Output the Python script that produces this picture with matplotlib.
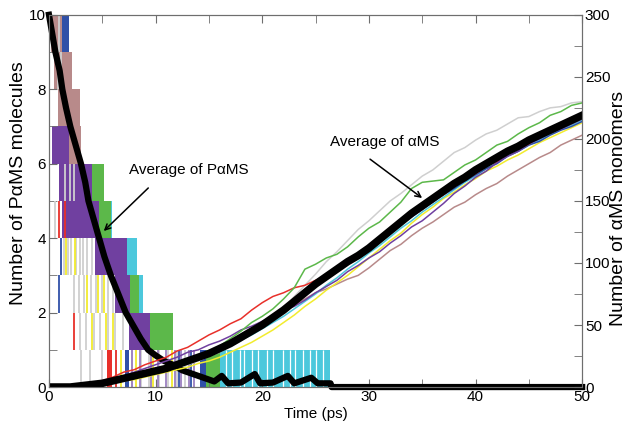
import numpy as np
import matplotlib.pyplot as plt

plt.rcParams['font.family'] = ['Liberation Sans', 'DejaVu Sans']

# ---- alpha-MS monomers (right axis), one value per ps ----
t_ams = np.arange(51)
avg_ams = [0, 0, 0, 1, 2, 3, 5, 7, 9, 11, 13, 15, 18, 21, 24, 27, 31, 35, 40, 45, 50,
           56, 62, 69, 76, 83, 89, 95, 101, 106, 112, 119, 126, 133, 140, 146, 152, 158,
           164, 169, 175, 180, 185, 190, 194, 199, 203, 207, 211, 215, 219]
gray_ams = [0, 0, 0, 0, 1, 2, 3, 5, 7, 9, 11, 13, 16, 18, 21, 25, 28, 33, 37, 43, 48,
            56, 63, 73, 82, 91, 101, 109, 118, 127, 134, 142, 150, 156, 163, 170, 175, 182,
            189, 193, 199, 204, 207, 212, 217, 218, 222, 225, 226, 229, 230]
green_ams = [0, 0, 0, 1, 1, 3, 4, 6, 8, 10, 13, 15, 17, 21, 24, 28, 33, 39, 45, 52, 57,
             63, 71, 80, 95, 99, 104, 107, 113, 121, 128, 133, 141, 149, 160, 165, 166, 167,
             173, 179, 183, 189, 195, 198, 204, 209, 213, 219, 222, 227, 229]
red_ams = [0, 0, 0, 1, 3, 5, 8, 12, 14, 18, 21, 24, 29, 32, 37, 42, 46, 51, 55, 62, 68,
           73, 76, 80, 82, 86, 90, 97, 102, 107, 114, 119, 126, 131, 138, 143, 150, 155,
           162, 167, 172, 178, 182, 188, 192, 196, 202, 205, 210, 213, 217]
purple_ams = [0, 0, 0, 1, 2, 4, 7, 9, 12, 15, 18, 21, 24, 28, 30, 34, 37, 41, 46, 49, 53,
              57, 62, 65, 70, 76, 81, 86, 93, 98, 104, 109, 116, 122, 129, 134, 141, 148,
              156, 162, 169, 174, 181, 186, 190, 196, 200, 205, 208, 212, 216]
brown_ams = [0, 0, 0, 1, 2, 3, 5, 7, 9, 11, 13, 16, 17, 20, 24, 26, 30, 35, 39, 44, 49,
             54, 60, 66, 71, 76, 79, 83, 87, 90, 96, 103, 110, 115, 122, 128, 133, 139,
             145, 149, 155, 160, 164, 170, 175, 180, 185, 189, 195, 199, 203]
yellow_ams = [0, 0, 0, 0, 1, 2, 3, 5, 6, 8, 10, 12, 14, 16, 19, 21, 24, 28, 32, 36, 41,
              46, 52, 58, 65, 71, 78, 84, 90, 97, 104, 111, 118, 124, 132, 139, 145, 152,
              157, 163, 168, 174, 178, 183, 187, 192, 197, 201, 205, 209, 213]
cyan_ams = [0, 0, 0, 0, 1, 2, 4, 6, 8, 10, 12, 14, 17, 19, 22, 26, 29, 33, 38, 42, 47,
            52, 57, 63, 69, 75, 82, 88, 95, 101, 108, 114, 121, 128, 134, 141, 147, 153,
            159, 165, 170, 176, 181, 186, 190, 195, 199, 204, 208, 211, 215]
blue_ams = [0, 0, 0, 1, 2, 3, 5, 7, 9, 11, 14, 16, 19, 22, 25, 28, 32, 36, 41, 45, 50,
            55, 61, 67, 74, 81, 88, 94, 101, 107, 113, 119, 124, 131, 137, 143, 149, 155,
            160, 166, 171, 176, 180, 186, 190, 195, 198, 203, 207, 210, 214]

# ---- P-alpha-MS molecules (left axis) ----
# average curve
t_pams = [0, 0.3, 0.6, 1.0, 1.25, 1.6, 2.0, 2.5, 3.0, 3.4, 3.7, 4.2, 4.7, 5.2, 5.8, 6.5,
          7.2, 8.0, 8.6, 9.3, 10.0, 10.8, 11.6, 12.5, 13.5, 14.5, 15.5, 16.2, 16.8, 18.0,
          19.3, 19.8, 21.0, 22.4, 23.0, 24.6, 25.2, 26.4, 26.5, 50]
avg_pams = [10, 9.5, 9.0, 8.5, 8.0, 7.5, 7.0, 6.5, 6.0, 5.5, 5.0, 4.5, 4.0, 3.5, 3.0, 2.5,
            2.0, 1.6, 1.3, 1.0, 0.85, 0.7, 0.6, 0.45, 0.35, 0.25, 0.15, 0.3, 0.1, 0.12,
            0.35, 0.1, 0.12, 0.3, 0.1, 0.25, 0.1, 0.1, 0, 0]

# flicker bands of single runs: (upper level, start ps, end ps)
cyan_bands = [(5, 5.0, 5.9), (4, 6.0, 8.3), (3, 8.3, 8.8), (1, 16.0, 26.4)]
green_bands = [(8, 2.7, 2.9), (6, 3.5, 5.2), (5, 4.5, 5.8), (3, 7.5, 8.4), (2, 8.5, 11.6),
               (1, 14.4, 16.0)]
pink_bands = [(10, 0.2, 1.4), (9, 0.5, 2.2), (8, 0.8, 2.9), (7, 1.9, 3.0)]
blue_bands = [(10, 1.2, 1.9), (1, 7.1, 7.5), (1, 14.2, 14.7)]
purple_bands = [(7, 0.3, 1.9), (6, 0.9, 4.05), (5, 1.2, 4.7), (4, 4.3, 7.3), (3, 6.2, 7.6),
                (2, 7.5, 9.5)]
red_bands = [(1, 5.45, 5.9)]

# thin spikes of single runs: upper level -> times
gray_spikes = {10: [0.9], 9: [0.8, 1.1], 6: [1.5, 2.0, 2.3], 5: [0.6],
               4: [1.1, 1.4, 1.8, 2.1, 2.5, 2.9, 3.2, 3.6, 4.0],
               3: [2.3, 2.8, 3.3, 3.9, 4.4, 5.0, 5.5, 6.0],
               2: [2.9, 3.5, 4.2, 4.8, 5.5, 6.2, 6.9],
               1: [3.0, 3.8, 5.0, 6.3, 7.8, 8.6, 9.4, 10.3, 11.2, 12.0, 12.8]}
yellow_spikes = {4: [1.6, 2.4], 3: [3.6, 4.6, 5.2], 2: [4.0, 5.3, 6.0],
                 1: [6.8, 8.2, 9.8, 11.5]}
red_spikes = {5: [0.9, 1.5], 2: [2.3], 1: [6.3]}
purple_spikes = {1: [7.8, 8.5, 9.6, 10.2, 11.0, 11.8, 12.4, 13.1, 13.6]}
blue_spikes = {4: [1.1], 3: [0.9], 1: [12.2, 13.3]}
cyan_gaps = [16.6, 17.2, 17.9, 18.3, 19.0, 19.6, 20.4, 21.0, 21.9, 22.6, 23.1, 23.8,
             24.5, 25.0, 25.7]

c_blue = '#3050a8'
c_pink = '#b88a8a'
c_green = '#5cb84a'
c_purple = '#7040a0'
c_cyan = '#4cc8dc'
c_yellow = '#f2ec2e'
c_gray = '#cfcfcf'
c_red = '#e8302a'

fig = plt.figure(figsize=(6.28, 4.23), dpi=100)
ax = fig.add_axes([0.078, 0.085, 0.849, 0.88])
ax2 = ax.twinx()

# bands, widest first so narrower ones stay visible
for bands, col in [(cyan_bands, c_cyan), (green_bands, c_green), (pink_bands, c_pink),
                   (blue_bands, c_blue), (purple_bands, c_purple), (red_bands, c_red)]:
    for lev, a, b in bands:
        ax.fill_between([a, b], lev - 1, lev, color=col, lw=0)

for spikes, col in [(gray_spikes, c_gray), (yellow_spikes, c_yellow), (red_spikes, c_red),
                    (purple_spikes, '#9b7fc0'), (blue_spikes, c_blue)]:
    for lev, times in spikes.items():
        ax.vlines(times, lev - 1, lev, color=col, lw=1.3)
ax.vlines(cyan_gaps, 0, 1, color='white', lw=0.9)

ax.plot(t_pams, avg_pams, color='black', lw=4.5, clip_on=False, zorder=5)

for vals, col in [(gray_ams, c_gray), (brown_ams, c_pink), (yellow_ams, c_yellow),
                  (cyan_ams, c_cyan), (blue_ams, c_blue), (purple_ams, c_purple),
                  (red_ams, c_red), (green_ams, c_green)]:
    ax2.plot(t_ams, vals, color=col, lw=1.1)
ax2.plot(t_ams, avg_ams, color='black', lw=5.5)

ax.set_xlim(0, 50)
ax.set_ylim(0, 10)
ax2.set_ylim(0, 300)
ax.set_xticks(range(0, 51, 10))
ax.set_xticks(range(5, 50, 10), minor=True)
ax.set_yticks(range(0, 11, 2))
ax.set_yticks(range(1, 10, 2), minor=True)
ax2.set_yticks(range(0, 301, 50))
ax2.set_yticks(range(25, 300, 50), minor=True)

for a in (ax, ax2):
    for s in a.spines.values():
        s.set_color('#6e6e6e')
    a.tick_params(which='both', direction='in', length=6, color='#6e6e6e',
                  labelsize=11, pad=2)
ax.tick_params(which='both', top=True)

ax.set_xlabel('Time (ps)', fontsize=11, labelpad=2)
ax.set_ylabel('Number of P\u03b1MS molecules', fontsize=14, va='center')
ax.yaxis.set_label_coords(-0.057, 0.548)
ax2.set_ylabel('Number of \u03b1MS monomers', fontsize=14, rotation=90, va='center')
ax2.yaxis.set_label_coords(1.069, 0.48)

ax.text(7.5, 5.83, 'Average of P\u03b1MS', fontsize=11, va='center', ha='left')
ax.annotate('', xy=(4.95, 4.14), xytext=(9.5, 5.4),
            arrowprops=dict(arrowstyle='->', color='black', lw=1.1))
ax2.text(26.4, 197.6, 'Average of \u03b1MS', fontsize=11, va='center', ha='left')
ax2.annotate('', xy=(35.2, 151), xytext=(29.9, 185),
             arrowprops=dict(arrowstyle='->', color='black', lw=1.1))

fig.savefig('out.png', dpi=100)
